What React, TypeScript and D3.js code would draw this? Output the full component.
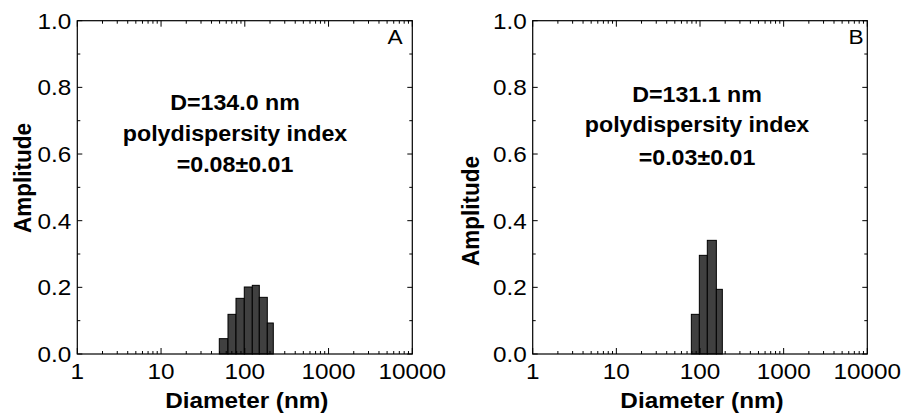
import React from "react";
import * as d3 from "d3";

const xTickValues = [1, 10, 100, 1000, 10000];
const xTickLabels = ["1", "10", "100", "1000", "10000"];
const yTickValues = [0, 0.2, 0.4, 0.6, 0.8, 1.0];
const yTickLabels = ["0.0", "0.2", "0.4", "0.6", "0.8", "1.0"];

const binEdgesA = [49.6, 63.0, 78.5, 98.6, 122.9, 149, 185.6, 218.9];
const amplitudesA = [0.046, 0.119, 0.167, 0.201, 0.206, 0.17, 0.093];
const binEdgesB = [78.8, 98.2, 122.3, 156.8, 184.9];
const amplitudesB = [0.119, 0.296, 0.341, 0.194];

const linesA = ["D=134.0 nm", "polydispersity index", "=0.08\u00b10.01"];
const linesB = ["D=131.1 nm", "polydispersity index", "=0.03\u00b10.01"];

const FONT = "'Liberation Sans', Arial, Helvetica, sans-serif";
const SX = 1.08;

function T({ x, y, size, bold, anchor, children, rotate }: any) {
  const tr = rotate
    ? `translate(${x},${y}) rotate(-90) scale(1,${SX})`
    : `translate(${x},${y}) scale(${SX},1)`;
  return (
    <text
      transform={tr}
      fontFamily={FONT}
      fontSize={size}
      fontWeight={bold ? "bold" : "normal"}
      textAnchor={anchor || "middle"}
      fill="#000"
    >
      {children}
    </text>
  );
}

function Panel({ left, right, edges, amps, lines, textX, textY, letter, letterX, ampX, ampY }: any) {
  const top = 20.7;
  const bottom = 354;
  const x = d3.scaleLog().domain([1, 10000]).range([left, right]);
  const y = d3.scaleLinear().domain([0, 1]).range([bottom, top]);
  const minorX: number[] = [];
  for (let dec = 1; dec < 10000; dec *= 10) for (let k = 2; k <= 9; k++) minorX.push(dec * k);
  const minorY = d3.range(1, 10, 2).map((v) => v / 10);
  return (
    <g>
      {amps.map((a: number, i: number) => (
        <rect
          key={i}
          x={x(edges[i])}
          y={y(a)}
          width={x(edges[i + 1]) - x(edges[i])}
          height={y(0) - y(a)}
          fill="#404040"
          stroke="#000"
          strokeWidth={1}
        />
      ))}
      <rect x={left} y={top} width={right - left} height={bottom - top} fill="none" stroke="#000" strokeWidth={1.2} />
      {xTickValues.map((v) => (
        <g key={"xm" + v}>
          <line x1={x(v)} x2={x(v)} y1={bottom} y2={bottom - 6} stroke="#000" />
          <line x1={x(v)} x2={x(v)} y1={top} y2={top + 6} stroke="#000" />
        </g>
      ))}
      {minorX.map((v) => (
        <g key={"xn" + v}>
          <line x1={x(v)} x2={x(v)} y1={bottom} y2={bottom - 3} stroke="#000" />
          <line x1={x(v)} x2={x(v)} y1={top} y2={top + 3} stroke="#000" />
        </g>
      ))}
      {yTickValues.map((v) => (
        <g key={"ym" + v}>
          <line x1={left} x2={left + 5} y1={y(v)} y2={y(v)} stroke="#000" />
          <line x1={right} x2={right - 5} y1={y(v)} y2={y(v)} stroke="#000" />
        </g>
      ))}
      {minorY.map((v) => (
        <g key={"yn" + v}>
          <line x1={left} x2={left + 3} y1={y(v)} y2={y(v)} stroke="#000" />
          <line x1={right} x2={right - 3} y1={y(v)} y2={y(v)} stroke="#000" />
        </g>
      ))}
      {xTickValues.map((v, i) => (
        <T key={"xl" + v} x={x(v)} y={379} size={22.5}>
          {xTickLabels[i]}
        </T>
      ))}
      {yTickValues.map((v, i) => (
        <T key={"yl" + v} x={left - 6} y={y(v) + 8} size={22.5} anchor="end">
          {yTickLabels[i]}
        </T>
      ))}
      <T x={(left + right) / 2 + 2} y={408} size={22.5} bold>
        Diameter (nm)
      </T>
      <T x={ampX + 8} y={ampY} size={22.5} bold rotate>
        Amplitude
      </T>
      {lines.map((s: string, i: number) => (
        <T key={i} x={textX} y={textY[i]} size={21.5} bold>
          {s}
        </T>
      ))}
      <T x={letterX} y={44} size={21}>
        {letter}
      </T>
    </g>
  );
}

export default function App() {
  return (
    <svg width={904} height={417} style={{ position: "absolute", left: 0, top: 0, background: "#fff" }}>
      <rect width={904} height={417} fill="#fff" />
      <Panel
        left={77.3}
        right={412.3}
        edges={binEdgesA}
        amps={amplitudesA}
        lines={linesA}
        textX={235}
        textY={[110, 140.7, 171.5]}
        letter="A"
        letterX={395}
        ampX={23}
        ampY={178}
      />
      <Panel
        left={532.7}
        right={867.3}
        edges={binEdgesB}
        amps={amplitudesB}
        lines={linesB}
        textX={697}
        textY={[101.7, 132.3, 165]}
        letter="B"
        letterX={856}
        ampX={470.7}
        ampY={211}
      />
    </svg>
  );
}
